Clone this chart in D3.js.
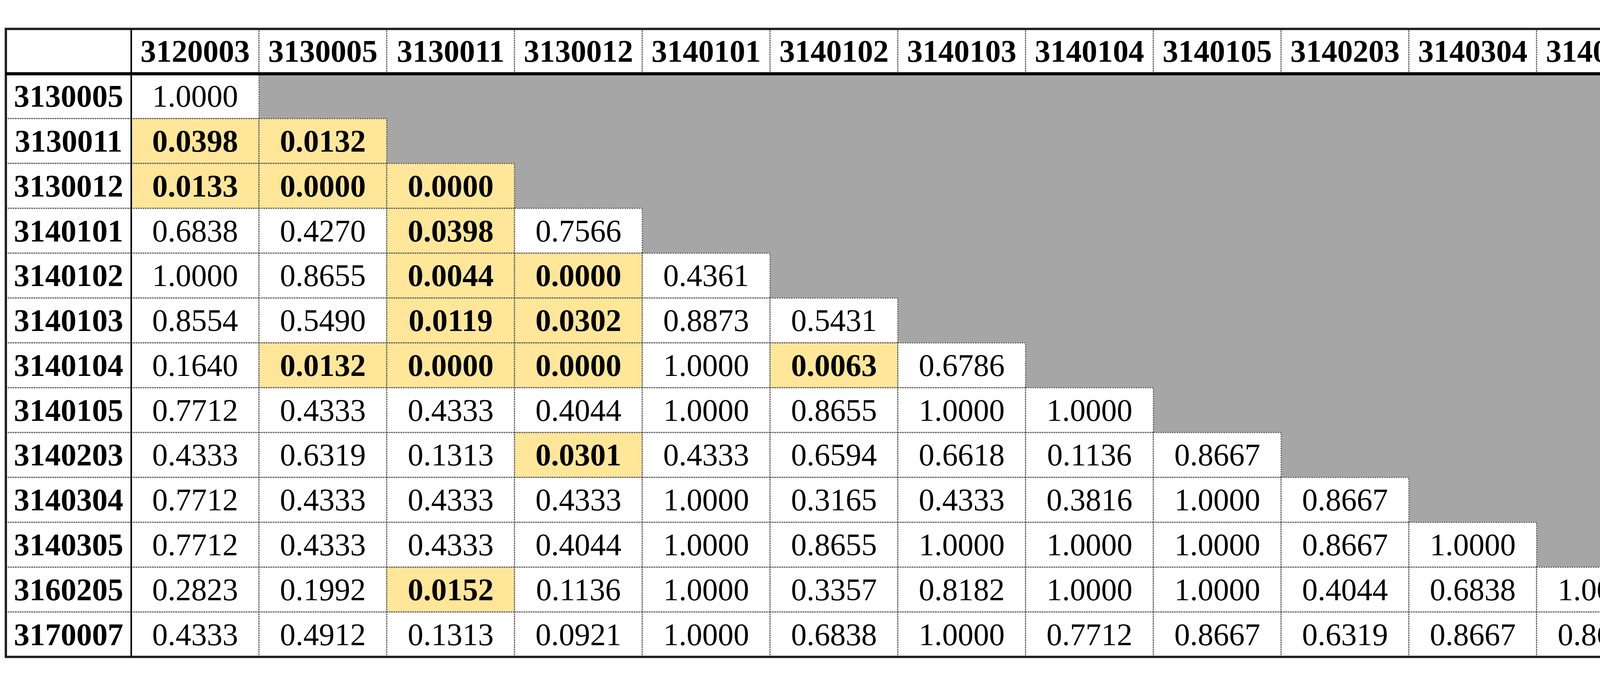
<!DOCTYPE html>
<html>
<head>
<meta charset="utf-8">
<script src="https://cdn.jsdelivr.net/npm/d3@7"></script>
<style>
  body { margin: 0; background: #fff; }
  text { font-family: "Liberation Serif", "DejaVu Serif", serif; }
</style>
</head>
<body>
<svg id="chart" width="4665" height="1735"></svg>
<script>
// column and row labels
var colLabels = ["3120003", "3130005", "3130011", "3130012", "3140101", "3140102", "3140103",
  "3140104", "3140105", "3140203", "3140304", "3140305", "3160205"];
var rowLabels = ["3130005", "3130011", "3130012", "3140101", "3140102", "3140103", "3140104",
  "3140105", "3140203", "3140304", "3140305", "3160205", "3170007"];

// lower triangle p-values, row by row
var pValues = [
  [1.0000],
  [0.0398, 0.0132],
  [0.0133, 0.0000, 0.0000],
  [0.6838, 0.4270, 0.0398, 0.7566],
  [1.0000, 0.8655, 0.0044, 0.0000, 0.4361],
  [0.8554, 0.5490, 0.0119, 0.0302, 0.8873, 0.5431],
  [0.1640, 0.0132, 0.0000, 0.0000, 1.0000, 0.0063, 0.6786],
  [0.7712, 0.4333, 0.4333, 0.4044, 1.0000, 0.8655, 1.0000, 1.0000],
  [0.4333, 0.6319, 0.1313, 0.0301, 0.4333, 0.6594, 0.6618, 0.1136, 0.8667],
  [0.7712, 0.4333, 0.4333, 0.4333, 1.0000, 0.3165, 0.4333, 0.3816, 1.0000, 0.8667],
  [0.7712, 0.4333, 0.4333, 0.4044, 1.0000, 0.8655, 1.0000, 1.0000, 1.0000, 0.8667, 1.0000],
  [0.2823, 0.1992, 0.0152, 0.1136, 1.0000, 0.3357, 0.8182, 1.0000, 1.0000, 0.4044, 0.6838, 1.0000],
  [0.4333, 0.4912, 0.1313, 0.0921, 1.0000, 0.6838, 1.0000, 0.7712, 0.8667, 0.6319, 0.8667, 0.8667, 1.0000]
];

function draw() {
  var svg = d3.select("#chart");
  var tLeft = 15, tRight = 4588, tTop = 74, tBottom = 1681, firstColRight = 336;
  var fontSize = 80;

  var x = d3.scaleBand().domain(colLabels).range([firstColRight, tRight]);
  var y = d3.scaleBand().domain(["header"].concat(rowLabels)).range([tTop, tBottom]);

  // gray area above the diagonal
  svg.append("rect")
    .attr("x", firstColRight).attr("y", y(rowLabels[0]))
    .attr("width", tRight - firstColRight).attr("height", tBottom - y(rowLabels[0]))
    .attr("fill", "#a6a6a6");

  var cells = [];
  pValues.forEach(function(row, i) {
    row.forEach(function(v, j) {
      cells.push({ row: rowLabels[i], col: colLabels[j], v: v });
    });
  });

  // header cells and row label cells
  var headerCells = colLabels.map(function(c) { return { x: x(c), y: y("header"), w: x.bandwidth(), label: c }; })
    .concat(rowLabels.map(function(r) { return { x: tLeft, y: y(r), w: firstColRight - tLeft, label: r }; }))
    .concat([{ x: tLeft, y: y("header"), w: firstColRight - tLeft, label: "" }]);

  svg.selectAll("rect.head").data(headerCells).enter().append("rect")
    .attr("class", "head")
    .attr("x", function(d) { return d.x; })
    .attr("y", function(d) { return d.y; })
    .attr("width", function(d) { return d.w; })
    .attr("height", y.bandwidth())
    .attr("fill", "#fff").attr("stroke", "#555").attr("stroke-width", 3)
    .attr("stroke-dasharray", "3,3");

  svg.selectAll("text.head").data(headerCells).enter().append("text")
    .attr("class", "head")
    .attr("x", function(d) { return d.x + d.w / 2; })
    .attr("y", function(d) { return d.y + y.bandwidth() / 2; })
    .attr("text-anchor", "middle").attr("dominant-baseline", "central")
    .attr("font-size", fontSize).attr("font-weight", "bold").attr("fill", "#000")
    .text(function(d) { return d.label; });

  // data cells
  svg.selectAll("rect.cell").data(cells).enter().append("rect")
    .attr("class", "cell")
    .attr("x", function(d) { return x(d.col); })
    .attr("y", function(d) { return y(d.row); })
    .attr("width", x.bandwidth()).attr("height", y.bandwidth())
    .attr("fill", function(d) { return d.v < 0.05 ? "#ffe699" : "#fff"; })
    .attr("stroke", "#555").attr("stroke-width", 3)
    .attr("stroke-dasharray", "3,3");

  svg.selectAll("text.cell").data(cells).enter().append("text")
    .attr("class", "cell")
    .attr("x", function(d) { return x(d.col) + x.bandwidth() / 2; })
    .attr("y", function(d) { return y(d.row) + y.bandwidth() / 2; })
    .attr("text-anchor", "middle").attr("dominant-baseline", "central")
    .attr("font-size", fontSize)
    .attr("font-weight", function(d) { return d.v < 0.05 ? "bold" : "normal"; })
    .attr("fill", "#000")
    .text(function(d) { return d.v.toFixed(4); });

  // solid rules: outer frame, header bottom, first column right
  svg.append("rect")
    .attr("x", tLeft).attr("y", tTop).attr("width", tRight - tLeft).attr("height", tBottom - tTop)
    .attr("fill", "none").attr("stroke", "#222").attr("stroke-width", 6);
  svg.append("line")
    .attr("x1", tLeft).attr("x2", tRight)
    .attr("y1", y(rowLabels[0])).attr("y2", y(rowLabels[0]))
    .attr("stroke", "#000").attr("stroke-width", 8);
  svg.append("line")
    .attr("x1", firstColRight).attr("x2", firstColRight)
    .attr("y1", tTop).attr("y2", tBottom)
    .attr("stroke", "#000").attr("stroke-width", 4);
}

draw();
</script>
</body>
</html>
